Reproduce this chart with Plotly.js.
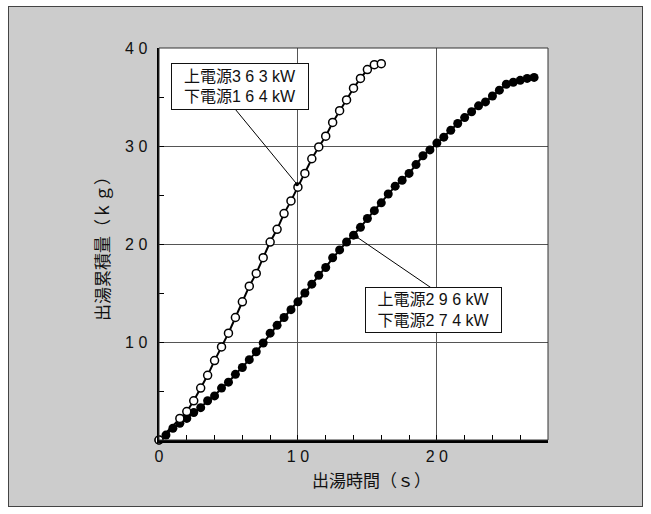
<!DOCTYPE html>
<html>
<head>
<meta charset="utf-8">
<script src="https://cdn.plot.ly/plotly-3.0.1.min.js"></script>
<style>
  html, body { margin: 0; padding: 0; background: #ffffff; }
  #bg { position: absolute; left: 8px; top: 6px; width: 633px; height: 499px; background: #cccccc; border: 1px solid #444; }
  #chart { position: absolute; left: 0; top: 0; width: 651px; height: 514px; }
</style>
</head>
<body>
<div id="bg"></div>
<div id="chart"></div>
<script>
// Series A: 上電源363kW / 下電源164kW (open circles)
const timeA = [0, 1.5, 2.0, 2.5, 3.0, 3.5, 4.0, 4.5, 5.0, 5.5, 6.0, 6.5, 7.0, 7.5, 8.0, 8.5, 9.0, 9.5, 10.0, 10.5, 11.0, 11.5, 12.0, 12.5, 13.0, 13.5, 14.0, 14.5, 15.0, 15.5, 16.0];
const massA = [0, 2.2, 2.9, 4.0, 5.3, 6.6, 8.1, 9.5, 10.9, 12.5, 14.1, 15.7, 17.0, 18.6, 20.2, 21.5, 23.1, 24.4, 25.8, 27.2, 28.7, 29.9, 31.0, 32.4, 33.6, 34.7, 35.9, 36.9, 37.8, 38.3, 38.4];

// Series B: 上電源296kW / 下電源274kW (filled circles)
const timeB = [0, 0.5, 1.0, 1.5, 2.0, 2.5, 3.0, 3.5, 4.0, 4.5, 5.0, 5.5, 6.0, 6.5, 7.0, 7.5, 8.0, 8.5, 9.0, 9.5, 10.0, 10.5, 11.0, 11.5, 12.0, 12.5, 13.0, 13.5, 14.0, 14.5, 15.0, 15.5, 16.0, 16.5, 17.0, 17.5, 18.0, 18.5, 19.0, 19.5, 20.0, 20.5, 21.0, 21.5, 22.0, 22.5, 23.0, 23.5, 24.0, 24.5, 25.0, 25.5, 26.0, 26.5, 27.0];
const massB = [0, 0.5, 1.2, 1.7, 2.2, 2.8, 3.3, 4.0, 4.5, 5.3, 5.9, 6.7, 7.4, 8.2, 9.0, 9.9, 10.9, 11.7, 12.5, 13.3, 14.1, 15.0, 15.9, 16.8, 17.6, 18.6, 19.4, 20.2, 20.9, 21.7, 22.6, 23.4, 24.2, 25.1, 25.9, 26.5, 27.2, 28.1, 29.0, 29.6, 30.3, 30.9, 31.6, 32.3, 32.9, 33.5, 34.1, 34.5, 35.1, 35.7, 36.3, 36.5, 36.7, 36.9, 37.0];

// Tick labels
const xTickVals = [0, 10, 20];
const xTickText = ['0', '1 0', '2 0'];
const yTickVals = [0, 10, 20, 30, 40];
const yTickText = ['', '1 0', '2 0', '3 0', '4 0'];

// Texts
const labelA = '上電源3 6 3 kW<br>下電源1 6 4 kW';
const labelB = '上電源2 9 6 kW<br>下電源2 7 4 kW';
const xTitle = '出湯時間（ｓ）';
const yTitle = '出湯累積量（ｋｇ）';

const FONT = 'Liberation Sans, Arial, "Noto Sans CJK JP", sans-serif';

const traces = [
  {
    x: timeB, y: massB, type: 'scatter', mode: 'lines+markers',
    line: {color: '#000', width: 2},
    marker: {symbol: 'circle', size: 9, color: '#000', line: {color: '#000', width: 0}},
    cliponaxis: false, hoverinfo: 'skip'
  },
  {
    x: timeA, y: massA, type: 'scatter', mode: 'lines+markers',
    line: {color: '#000', width: 2},
    marker: {symbol: 'circle', size: 8, color: '#fff', line: {color: '#000', width: 1.5}},
    cliponaxis: false, hoverinfo: 'skip'
  }
];

const layout = {
  width: 651, height: 514,
  margin: {l: 159, r: 103, t: 47.5, b: 74},
  paper_bgcolor: 'rgba(0,0,0,0)',
  plot_bgcolor: '#ffffff',
  showlegend: false,
  font: {family: FONT, color: '#111'},
  xaxis: {
    range: [0, 28], tickmode: 'array', tickvals: xTickVals, ticktext: xTickText,
    ticks: 'inside', ticklen: 5, tickwidth: 1, tickcolor: '#000',
    showline: true, linecolor: '#000', linewidth: 2.5,
    showgrid: true, gridcolor: '#555', gridwidth: 1, zeroline: false,
    tickfont: {size: 16, family: FONT, color: '#111'},
    ticklabelstandoff: 0,
    minor: {tickmode: 'linear', tick0: 0, dtick: 2, ticks: 'inside', ticklen: 5, tickwidth: 1, tickcolor: '#000', showgrid: false},
    fixedrange: true
  },
  yaxis: {
    range: [0, 40], tickmode: 'array', tickvals: yTickVals, ticktext: yTickText,
    ticks: 'inside', ticklen: 5, tickwidth: 1, tickcolor: '#000',
    showline: true, linecolor: '#000', linewidth: 2.5,
    showgrid: true, gridcolor: '#555', gridwidth: 1, zeroline: false,
    tickfont: {size: 16, family: FONT, color: '#111'},
    ticklabelstandoff: 6,
    minor: {tickmode: 'linear', tick0: 0, dtick: 5, ticks: 'inside', ticklen: 5, tickwidth: 1, tickcolor: '#000', showgrid: false},
    fixedrange: true
  },
  shapes: [
    {type: 'rect', xref: 'paper', yref: 'paper', x0: 0, x1: 1, y0: 0, y1: 1, line: {color: '#333', width: 1}, layer: 'above'}
  ],
  annotations: [
    // leader lines (tails hidden under the label boxes)
    {x: 9.93, y: 26.1, xref: 'x', yref: 'y', ax: 4.88, ay: 34.8, axref: 'x', ayref: 'y',
     text: ' ', font: {size: 1}, showarrow: true, arrowhead: 6, arrowsize: 1, arrowwidth: 1, arrowcolor: '#000', standoff: 0, startstandoff: 0},
    {x: 14.24, y: 20.71, xref: 'x', yref: 'y', ax: 20.29, ay: 14.85, axref: 'x', ayref: 'y',
     text: ' ', font: {size: 1}, showarrow: true, arrowhead: 6, arrowsize: 1, arrowwidth: 1, arrowcolor: '#000', standoff: 0, startstandoff: 0},
    // label boxes
    {x: 5.83, y: 36.07, xref: 'x', yref: 'y', showarrow: false, text: labelA,
     font: {size: 16, family: FONT, color: '#111'}, bgcolor: '#fff', bordercolor: '#111', borderwidth: 1,
     borderpad: 1, width: 134, height: 43, align: 'center', xanchor: 'center', yanchor: 'middle'},
    {x: 19.75, y: 13.27, xref: 'x', yref: 'y', showarrow: false, text: labelB,
     font: {size: 16, family: FONT, color: '#111'}, bgcolor: '#fff', bordercolor: '#111', borderwidth: 1,
     borderpad: 1, width: 133, height: 42, align: 'center', xanchor: 'center', yanchor: 'middle'},
    // axis titles
    {x: 0.546, y: -0.107, xref: 'paper', yref: 'paper', showarrow: false, text: xTitle,
     font: {size: 17, family: FONT, color: '#111'}, xanchor: 'center', yanchor: 'middle'},
    {x: -0.144, y: 0.5, xref: 'paper', yref: 'paper', showarrow: false, text: yTitle, textangle: -90,
     font: {size: 17, family: FONT, color: '#111'}, xanchor: 'center', yanchor: 'middle'}
  ]
};

Plotly.newPlot('chart', traces, layout, {staticPlot: true, displayModeBar: false});
</script>
</body>
</html>
